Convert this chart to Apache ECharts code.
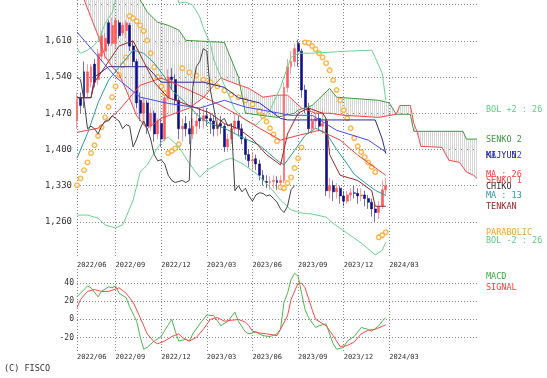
<!DOCTYPE html>
<html>
<head>
<meta charset="utf-8">
<script src="https://cdn.jsdelivr.net/npm/echarts@6/dist/echarts.min.js"></script>
<style>
  html, body { margin: 0; padding: 0; background: #fff; }
  #chart { width: 547px; height: 378px; }
</style>
</head>
<body>
<div id="chart"></div>
<script>
// weekly bars, index 0 = week of 2022/06, 26 weeks of cloud projected past the last bar
const weekCount = 115;
const tickIndex = [0, 11, 24, 37, 50, 63, 76, 89];
const tickLabel = ["2022/06", "2022/09", "2022/12", "2023/03", "2023/06", "2023/09", "2023/12", "2024/03"];
const priceTicks = [1260, 1330, 1400, 1470, 1540, 1610];

const candleOpen = [1455, 1500, 1550, 1510, 1530, 1565, 1535, 1580, 1590, 1645, 1605, 1605, 1645, 1625, 1630, 1640, 1600, 1570, 1495, 1470,
  1490, 1445, 1470, 1430, 1450, 1420, 1500, 1540, 1535, 1495, 1440, 1450, 1440, 1430, 1445, 1460, 1455, 1465, 1460, 1455,
  1440, 1450, 1445, 1405, 1420, 1440, 1455, 1440, 1420, 1390, 1378, 1382, 1372, 1350, 1338, 1336, 1338, 1340, 1336, 1340,
  1520, 1560, 1570, 1605, 1590, 1515, 1480, 1440, 1455, 1460, 1445, 1455, 1320, 1330, 1318, 1325, 1310, 1300, 1312, 1316,
  1315, 1310, 1312, 1305, 1298, 1285, 1278, 1290, 1322];
const candleClose = [1495, 1485, 1500, 1550, 1560, 1530, 1585, 1620, 1615, 1605, 1640, 1650, 1620, 1640, 1645, 1600, 1570, 1490, 1470, 1490,
  1445, 1470, 1430, 1455, 1420, 1500, 1540, 1535, 1495, 1440, 1445, 1440, 1430, 1445, 1455, 1455, 1465, 1460, 1455, 1440,
  1448, 1445, 1405, 1420, 1440, 1455, 1440, 1420, 1390, 1378, 1380, 1372, 1350, 1340, 1336, 1338, 1340, 1336, 1340, 1520,
  1560, 1570, 1595, 1590, 1515, 1480, 1440, 1455, 1460, 1445, 1450, 1320, 1330, 1318, 1325, 1310, 1300, 1312, 1316, 1315,
  1310, 1312, 1305, 1298, 1285, 1278, 1290, 1322, 1330];
const candleLow = [1440, 1470, 1480, 1500, 1520, 1520, 1525, 1570, 1575, 1600, 1600, 1595, 1615, 1620, 1615, 1590, 1560, 1480, 1455, 1450,
  1430, 1435, 1415, 1420, 1405, 1415, 1495, 1515, 1485, 1420, 1415, 1425, 1410, 1420, 1430, 1440, 1440, 1445, 1430, 1425,
  1425, 1430, 1395, 1395, 1410, 1430, 1425, 1410, 1380, 1365, 1360, 1360, 1340, 1330, 1325, 1322, 1325, 1322, 1325, 1335,
  1510, 1545, 1560, 1560, 1500, 1470, 1430, 1430, 1440, 1435, 1430, 1310, 1305, 1300, 1305, 1295, 1290, 1295, 1300, 1305,
  1295, 1300, 1290, 1285, 1270, 1260, 1265, 1285, 1310];
const candleHigh = [1510, 1510, 1570, 1565, 1565, 1575, 1595, 1630, 1625, 1650, 1655, 1655, 1650, 1645, 1650, 1645, 1610, 1575, 1510, 1500,
  1495, 1480, 1475, 1460, 1460, 1510, 1555, 1557, 1545, 1500, 1460, 1465, 1455, 1460, 1470, 1480, 1485, 1480, 1470, 1465,
  1460, 1465, 1450, 1430, 1450, 1470, 1465, 1450, 1425, 1400, 1395, 1390, 1380, 1360, 1350, 1348, 1350, 1348, 1350, 1530,
  1575, 1590, 1605, 1612, 1595, 1525, 1490, 1465, 1470, 1470, 1475, 1460, 1345, 1340, 1335, 1330, 1320, 1320, 1325, 1330,
  1325, 1325, 1320, 1312, 1305, 1295, 1300, 1340, 1345];

const ma13 = [[0, 1383], [3, 1431], [6, 1490], [9, 1534], [12, 1559], [16, 1592], [19, 1586], [22, 1567], [25, 1540], [27, 1515],
  [31, 1490], [35, 1462], [38, 1450], [42, 1441], [46, 1427], [52, 1408], [57, 1379], [59, 1370], [62, 1398], [65, 1427],
  [68, 1441], [71, 1432], [74, 1400], [77, 1372], [79, 1352], [82, 1336], [85, 1321], [88, 1311]];
const ma26 = [[0, 1433], [6, 1441], [12, 1476], [18, 1524], [24, 1538], [29, 1524], [35, 1505], [41, 1485], [46, 1466], [52, 1441],
  [58, 1418], [63, 1427], [69, 1437], [75, 1418], [80, 1389], [88, 1350]];
const ma52 = [[0, 1627], [11, 1540], [18, 1501], [26, 1489], [35, 1480], [42, 1495], [48, 1482], [61, 1466], [67, 1466], [74, 1437],
  [83, 1418], [88, 1395]];
const tenkan = [[0, 1500], [4, 1500], [5, 1530], [8, 1560], [12, 1600], [16, 1610], [19, 1570], [22, 1530], [26, 1500], [30, 1490],
  [34, 1480], [38, 1470], [42, 1450], [46, 1440], [50, 1420], [54, 1390], [58, 1370], [60, 1430], [63, 1470], [66, 1480],
  [70, 1470], [71, 1460], [72, 1390], [75, 1350], [80, 1340], [84, 1320], [85, 1290], [88, 1290]];
const kijun = [[0, 1500], [4, 1500], [5, 1540], [9, 1560], [20, 1560], [24, 1530], [36, 1530], [42, 1520], [46, 1500], [52, 1490],
  [58, 1460], [60, 1457], [85, 1457], [87, 1420], [88, 1392]];
const senko1 = [[0, 1740], [2, 1690], [4, 1655], [6, 1620], [8, 1580], [10, 1560], [12, 1545], [14, 1515], [17, 1465], [20, 1440],
  [24, 1460], [28, 1470], [32, 1480], [36, 1500], [39, 1524], [41, 1538], [44, 1530], [49, 1518], [53, 1501], [57, 1505],
  [60, 1505], [64, 1480], [68, 1470], [72, 1470], [76, 1466], [86, 1462], [91, 1468], [92, 1485], [95, 1485], [96, 1450],
  [97, 1433], [98, 1406], [104, 1404], [106, 1379], [109, 1375], [111, 1356], [113, 1350], [114, 1344]];
const senko2 = [[0, 1730], [17, 1730], [18, 1689], [20, 1666], [23, 1646], [26, 1640], [29, 1631], [31, 1611], [42, 1607], [46, 1540],
  [48, 1470], [57, 1462], [62, 1470], [63, 1476], [67, 1485], [72, 1518], [74, 1501], [86, 1495], [89, 1490], [91, 1468],
  [95, 1468], [96, 1435], [110, 1435], [111, 1420], [114, 1420]];
const bolUpper = [[0, 1596], [1, 1586], [3, 1592], [5, 1602], [6, 1611], [7, 1625], [8, 1644], [10, 1664], [11, 1689], [13, 1720],
  [28, 1720], [29, 1683], [31, 1685], [33, 1679], [35, 1656], [36, 1635], [38, 1605], [39, 1573], [41, 1540], [43, 1509],
  [45, 1476], [48, 1457], [51, 1447], [55, 1476], [58, 1520], [59, 1540], [60, 1559], [61, 1578], [63, 1586], [67, 1586],
  [72, 1588], [77, 1590], [84, 1592], [85, 1578], [87, 1547], [88, 1495]];
const bolLower = [[0, 1273], [3, 1273], [6, 1267], [8, 1254], [11, 1248], [13, 1254], [14, 1269], [16, 1302], [18, 1356], [20, 1370],
  [22, 1393], [24, 1414], [26, 1424], [29, 1405], [32, 1373], [35, 1346], [37, 1360], [42, 1379], [44, 1383], [47, 1373],
  [51, 1354], [55, 1327], [58, 1302], [61, 1283], [64, 1277], [67, 1275], [71, 1269], [73, 1257], [77, 1238], [81, 1219],
  [85, 1196], [87, 1205], [88, 1220]];
const parabolic = [[0, 1331], [1, 1344], [2, 1360], [3, 1375], [4, 1393], [5, 1408], [6, 1426], [7, 1443], [8, 1462], [9, 1482],
  [10, 1501], [11, 1522], [12, 1544], [13, 1563], [14, 1578], [15, 1658], [16, 1654], [17, 1648], [18, 1640], [19, 1629],
  [20, 1611], [21, 1586], [22, 1559], [23, 1540], [24, 1522], [25, 1509], [26, 1393], [27, 1397], [28, 1402], [29, 1410],
  [30, 1557], [32, 1549], [34, 1543], [36, 1535], [38, 1530], [40, 1522], [42, 1514], [44, 1506], [46, 1501], [48, 1495],
  [50, 1487], [52, 1474], [53, 1464], [54, 1454], [55, 1441], [56, 1429], [57, 1416], [58, 1327], [59, 1325], [60, 1335],
  [61, 1346], [62, 1364], [63, 1383], [64, 1404], [65, 1607], [66, 1606], [67, 1600], [68, 1594], [69, 1586], [70, 1578],
  [71, 1567], [72, 1553], [73, 1534], [74, 1515], [75, 1495], [76, 1476], [77, 1460], [78, 1441], [79, 1422], [80, 1406],
  [81, 1395], [82, 1385], [83, 1375], [84, 1366], [85, 1356], [86, 1230], [87, 1234], [88, 1240]];

const macd = [[0, 25], [1, 29], [2, 33], [3, 37], [4, 35], [6, 25], [7, 31], [9, 36], [10, 35], [11, 37], [12, 29], [14, 24],
  [15, 14], [17, -2], [18, -19], [19, -33], [20, -31], [22, -24], [24, -19], [25, -12], [26, -6], [27, 0], [28, -13], [29, -24],
  [31, -22], [32, -24], [33, -16], [35, -5], [37, 5], [39, 4], [41, -7], [43, -2], [45, 8], [46, -2], [48, -14], [49, -16],
  [51, -14], [53, -18], [55, -19], [57, -16], [58, -11], [59, 19], [60, 29], [61, 44], [62, 51], [63, 48], [64, 29], [65, 11],
  [66, 2], [68, -9], [69, -7], [71, -5], [72, -16], [73, -27], [74, -33], [76, -31], [77, -24], [79, -19], [81, -9], [83, -11],
  [84, -13], [86, -7], [87, -2], [88, 2]];
const signal = [[0, 13], [1, 22], [3, 31], [5, 33], [7, 31], [9, 31], [12, 35], [14, 29], [16, 19], [18, 2], [20, -16], [22, -25],
  [23, -27], [25, -24], [27, -19], [29, -16], [30, -20], [32, -24], [34, -20], [36, -11], [38, 0], [40, 2], [42, -2], [44, -1],
  [46, 0], [48, -3], [49, -7], [50, -13], [52, -15], [54, -16], [57, -18], [58, -11], [60, 4], [61, 22], [63, 40], [64, 40],
  [65, 35], [67, 11], [68, 0], [71, -7], [73, -18], [75, -30], [77, -29], [79, -25], [81, -16], [83, -12], [85, -11], [88, -6]];

const chikoShift = 26;

// ---------------------------------------------------------------
const chart = echarts.init(document.getElementById("chart"), null, { renderer: "canvas" });

const categories = [];
for (let i = 0; i < weekCount; i++) categories.push(String(i));

const candles = candleOpen.map((o, i) => [o, candleClose[i], candleLow[i], candleHigh[i]]);
// chiko span = closing price plotted 26 weeks back
const chiko = candleClose.slice(chikoShift).map((c, j) => [j, c]);

// vertical hatching used for the cloud
const hatch = document.createElement("canvas");
hatch.width = 2;
hatch.height = 2;
const hctx = hatch.getContext("2d");
hctx.fillStyle = "#d6d6d6";
hctx.fillRect(0, 0, 1, 2);

const isTick = (idx) => tickIndex.indexOf(Number(idx)) >= 0;
const dotted = { color: "#8a8a8a", type: [1, 2], width: 1 };
const mono = "DejaVu Sans Mono";

function xAxisFor(gridIndex, margin) {
  return {
    type: "category",
    gridIndex: gridIndex,
    data: categories,
    boundaryGap: false,
    axisLine: { show: false },
    axisTick: { show: false },
    axisLabel: {
      interval: (idx) => isTick(idx),
      formatter: (v) => tickLabel[tickIndex.indexOf(Number(v))] || "",
      fontFamily: mono,
      fontSize: 7,
      color: "#333",
      align: "left",
      margin: margin,
    },
    splitLine: { show: true, interval: (idx) => isTick(idx), lineStyle: dotted },
  };
}

function line(name, data, color, xi, yi) {
  return {
    name: name,
    type: "line",
    xAxisIndex: xi || 0,
    yAxisIndex: yi || 0,
    data: data,
    symbol: "none",
    lineStyle: { color: color, width: 1 },
    silent: true,
    animation: false,
  };
}

const legendText = [
  ["BOL +2 : 26", 110, "#5fcf86"],
  ["SENKO 2", 140, "#3f9b3f"],
  ["MA : 52", 156, "#3a3aff"],
  ["KIJYUN", 156, "#2a2a9a"],
  ["MA : 26", 175, "#ff3b3b"],
  ["SENKO 1", 181, "#ff4545"],
  ["CHIKO", 187, "#333333"],
  ["MA : 13", 196, "#2a9d9d"],
  ["TENKAN", 207, "#a02828"],
  ["PARABOLIC", 233, "#ffa21a"],
  ["BOL -2 : 26", 241, "#5fcf86"],
  ["MACD", 277, "#3caf3c"],
  ["SIGNAL", 288, "#ff3b3b"],
];

const option = {
  animation: false,
  backgroundColor: "#fff",
  grid: [
    { left: 77, top: 0, width: 400, height: 258 },
    { left: 77, top: 269, width: 400, height: 84 },
  ],
  xAxis: [xAxisFor(0, 4), xAxisFor(1, 1)],
  yAxis: [
    {
      type: "value",
      gridIndex: 0,
      min: 1190,
      max: 1689,
      interval: 70,
      axisLine: { show: false },
      axisTick: { show: false },
      axisLabel: {
        formatter: (v) => (priceTicks.indexOf(v) >= 0 ? v.toLocaleString("en-US") : ""),
        fontFamily: mono,
        fontSize: 9,
        color: "#333",
        margin: 5,
      },
      splitLine: { show: true, showMinLine: false, showMaxLine: false, lineStyle: dotted },
    },
    {
      type: "value",
      gridIndex: 1,
      min: -37.2,
      max: 55.8,
      axisLine: { show: false },
      axisTick: { show: false },
      axisLabel: {
        showMinLabel: false,
        showMaxLabel: false,
        fontFamily: mono,
        fontSize: 8,
        color: "#333",
        margin: 3,
      },
      splitLine: { show: true, showMinLine: false, showMaxLine: false, lineStyle: dotted },
    },
  ],
  graphic: legendText.map((t) => ({
    type: "text",
    x: 486,
    y: t[1],
    silent: true,
    style: { text: t[0], fill: t[2], font: "8.5px " + mono, textVerticalAlign: "middle" },
  })).concat([{
    type: "text",
    x: 4,
    y: 369,
    silent: true,
    style: { text: "(C) FISCO", fill: "#333", font: "8.5px " + mono, textVerticalAlign: "middle" },
  }]),
  series: [
    {
      // cloud between the two leading spans
      type: "custom",
      xAxisIndex: 0,
      yAxisIndex: 0,
      data: [0],
      clip: true,
      silent: true,
      renderItem: (params, api) => {
        const pts = senko1.map((p) => api.coord(p)).concat(senko2.slice().reverse().map((p) => api.coord(p)));
        return { type: "polygon", shape: { points: pts }, style: { fill: { image: hatch, repeat: "repeat" }, stroke: null } };
      },
    },
    line("SENKO 2", senko2, "#3f9b3f"),
    line("SENKO 1", senko1, "#ff4545"),
    line("BOL +2", bolUpper, "#6ad590"),
    line("BOL -2", bolLower, "#6ad590"),
    line("MA 52", ma52, "#4a4aff"),
    line("KIJYUN", kijun, "#2a2a9a"),
    line("MA 26", ma26, "#ff4040"),
    line("MA 13", ma13, "#2a9d9d"),
    line("TENKAN", tenkan, "#a02828"),
    line("CHIKO", chiko, "#444444"),
    {
      name: "price",
      type: "candlestick",
      data: candles,
      barWidth: 2.4,
      silent: true,
      itemStyle: { color: "#ff5a5a", color0: "#101088", borderColor: "#ff5a5a", borderColor0: "#101088", borderWidth: 0.6 },
    },
    {
      name: "PARABOLIC",
      type: "scatter",
      data: parabolic,
      symbol: "circle",
      symbolSize: 4.5,
      silent: true,
      itemStyle: { color: "#fff", borderColor: "#ffa21a", borderWidth: 1.4 },
    },
    line("MACD", macd, "#4fb84f", 1, 1),
    line("SIGNAL", signal, "#ff4a4a", 1, 1),
  ],
};

chart.setOption(option);
</script>
</body>
</html>
